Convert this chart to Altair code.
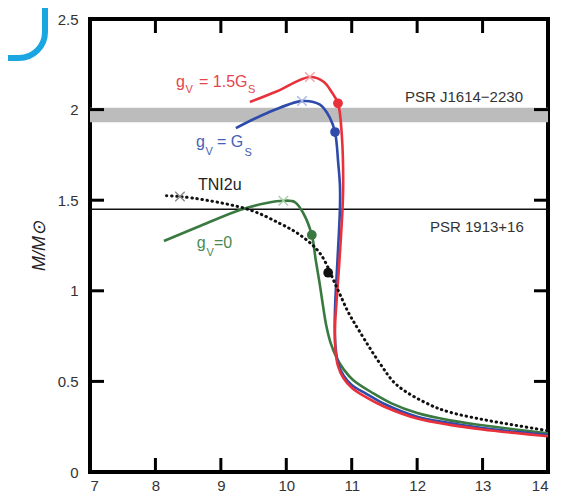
import altair as alt
import pandas as pd

# ---- data ----
red_R = [9.445, 9.85, 10.36, 10.57, 10.69, 10.79, 10.85, 10.87, 10.86, 10.81, 10.77, 10.745, 10.75, 10.79, 10.87, 11.0, 11.23, 11.5, 12.0, 12.5, 13.0, 13.5, 14.0]
red_M = [2.042, 2.10, 2.18, 2.154, 2.099, 2.035, 1.85, 1.6, 1.457, 1.153, 0.95, 0.80, 0.68, 0.585, 0.52, 0.465, 0.41, 0.36, 0.295, 0.26, 0.235, 0.215, 0.197]

blue_R = [9.23, 9.70, 10.24, 10.515, 10.67, 10.745, 10.795, 10.82, 10.82, 10.78, 10.75, 10.74, 10.755, 10.80, 10.88, 11.0, 11.23, 11.5, 12.0, 12.5, 13.0, 13.5, 14.0]
blue_M = [1.898, 1.98, 2.047, 2.027, 1.952, 1.876, 1.70, 1.58, 1.455, 1.152, 0.95, 0.80, 0.68, 0.59, 0.53, 0.48, 0.43, 0.375, 0.305, 0.27, 0.243, 0.222, 0.205]

green_R = [8.13, 8.7, 9.29, 9.7, 9.955, 10.13, 10.26, 10.39, 10.45, 10.51, 10.56, 10.61, 10.68, 10.77, 10.88, 11.02, 11.33, 11.6, 12.0, 12.5, 13.0, 13.5, 14.0]
green_M = [1.275, 1.36, 1.446, 1.485, 1.497, 1.49, 1.428, 1.308, 1.17, 1.04, 0.92, 0.81, 0.71, 0.63, 0.565, 0.508, 0.434, 0.38, 0.325, 0.285, 0.258, 0.235, 0.214]

tni_R = [8.17, 8.375, 8.78, 9.445, 9.90, 10.21, 10.515, 10.77, 10.95, 11.13, 11.43, 11.69, 12.2, 12.5, 13.0, 13.5, 14.0]
tni_M = [1.525, 1.52, 1.50, 1.446, 1.372, 1.308, 1.207, 1.02, 0.88, 0.77, 0.60, 0.48, 0.37, 0.33, 0.29, 0.258, 0.228]

# maximum-mass crosses and marked dots
cross_R = [10.36, 10.24, 9.955, 8.375]
cross_M = [2.18, 2.047, 1.497, 1.52]
cross_col = ["#f4a3a6", "#a9b7e3", "#a7cfa9", "#8a8a8a"]

dot_R = [10.79, 10.745, 10.39, 10.64]
dot_M = [2.035, 1.876, 1.308, 1.10]

RED, BLUE, GREEN, BLACK = "#e8313b", "#2e4aab", "#3a7a40", "#111111"
dot_col = [RED, BLUE, GREEN, BLACK]

# observational constraints
band_lo, band_hi = 1.93, 2.01
psr1913 = 1.45

# text annotations (pieces for sub-scripts)
lab_text = ["g", "V", "= 1.5G", "S",
            "g", "V", "= G", "S",
            "TNI2u",
            "g", "V", "=0",
            "PSR J1614\u22122230", "PSR 1913+16"]
lab_R = [8.314, 8.46, 8.666, 9.415,
         8.62, 8.765, 8.941, 9.36,
         8.65,
         8.63, 8.78, 8.895,
         11.814, 12.196]
lab_M = [2.126, 2.092, 2.126, 2.092,
         1.795, 1.749, 1.795, 1.744,
         1.556,
         1.234, 1.192, 1.234,
         2.044, 1.326]
lab_size = [16, 11, 16, 11, 16, 11, 16, 11, 16, 16, 11, 16, 15, 15]
lab_col = ["#e5454c"] * 4 + ["#4561b5"] * 4 + ["#222222"] + ["#4a8a50"] * 3 + ["#333333", "#333333"]

x_ticks = [7, 8, 9, 10, 11, 12, 13, 14]
y_ticks = [0, 0.5, 1, 1.5, 2, 2.5]
x_inner = [8, 9, 10, 11, 12, 13]
y_inner = [0.5, 1, 1.5, 2]

W, H = 458, 453
TL = 14

xs = alt.Scale(domain=[7, 14], nice=False, zero=False)
ys = alt.Scale(domain=[0, 2.5], nice=False, zero=False)
FONT = "Liberation Sans"

x_axis = alt.Axis(values=x_ticks, title=None, grid=False, ticks=False, domain=False,
                  labelPadding=6, labelFontSize=15, labelColor="#333333", labelFont=FONT)
y_axis = alt.Axis(values=y_ticks, title="M/M\u2299", format="~g", grid=False, ticks=False, domain=False,
                  labelPadding=12, labelFontSize=15, labelColor="#333333", labelFont=FONT,
                  titleFont=FONT, titleFontStyle="italic", titleFontWeight="normal",
                  titleFontSize=18, titleColor="#222222", titlePadding=9)

X = alt.X("R:Q", scale=xs, axis=x_axis)
Y = alt.Y("M:Q", scale=ys, axis=y_axis)


def cdf(r, m):
    return pd.DataFrame({"R": r, "M": m, "o": list(range(len(r)))})


band = alt.Chart(pd.DataFrame({"R": [7], "R2": [14], "M": [band_lo], "M2": [band_hi]})).mark_rect(
    color="#bcbcbc").encode(x=X, x2="R2:Q", y=Y, y2="M2:Q")

rule = alt.Chart(pd.DataFrame({"R": [7], "R2": [14], "M": [psr1913]})).mark_rule(
    color="#111111", strokeWidth=1.4).encode(x=X, x2="R2:Q", y=Y)


def line(r, m, col):
    return alt.Chart(cdf(r, m)).mark_line(color=col, strokeWidth=2.6, interpolate="catmull-rom").encode(
        x=X, y=Y, order="o:Q")


tni = alt.Chart(cdf(tni_R, tni_M)).mark_line(
    color=BLACK, strokeWidth=3, strokeDash=[0.5, 4.6], strokeCap="round", interpolate="catmull-rom").encode(
    x=X, y=Y, order="o:Q")

crosses = alt.Chart(pd.DataFrame({"R": cross_R, "M": cross_M, "c": cross_col})).mark_point(
    shape="M-1,-1L1,1M-1,1L1,-1", filled=False, strokeWidth=1.4, size=90, opacity=1).encode(
    x=X, y=Y, stroke=alt.Color("c:N", scale=None))

dots = alt.Chart(pd.DataFrame({"R": dot_R, "M": dot_M, "c": dot_col})).mark_circle(
    size=95, opacity=1).encode(x=X, y=Y, color=alt.Color("c:N", scale=None))

labels = alt.Chart(pd.DataFrame({"R": lab_R, "M": lab_M, "t": lab_text, "s": lab_size, "c": lab_col})).mark_text(
    align="left", baseline="alphabetic", font=FONT).encode(
    x=X, y=Y, text="t:N", size=alt.Size("s:Q", scale=None), color=alt.Color("c:N", scale=None))

tick_style = dict(color="black", strokeWidth=3)
top_t = alt.Chart(pd.DataFrame({"R": x_inner})).mark_rule(**tick_style).encode(
    x=X, y=alt.value(0), y2=alt.value(TL))
bot_t = alt.Chart(pd.DataFrame({"R": x_inner})).mark_rule(**tick_style).encode(
    x=X, y=alt.value(H - TL), y2=alt.value(H))
left_t = alt.Chart(pd.DataFrame({"M": y_inner})).mark_rule(**tick_style).encode(
    y=Y, x=alt.value(0), x2=alt.value(TL))
right_t = alt.Chart(pd.DataFrame({"M": y_inner})).mark_rule(**tick_style).encode(
    y=Y, x=alt.value(W - TL), x2=alt.value(W))

deco = alt.Chart(pd.DataFrame({"k": [0]})).mark_rect(
    fill="transparent", stroke="#1aa6e0", strokeWidth=6, cornerRadius=26).encode(
    x=alt.value(-400), x2=alt.value(-45), y=alt.value(-400), y2=alt.value(39))

chart = alt.layer(
    band, rule,
    line(green_R, green_M, GREEN), line(blue_R, blue_M, BLUE), line(red_R, red_M, RED), tni,
    crosses, dots, labels,
    top_t, bot_t, left_t, right_t, deco,
).properties(
    width=W, height=H,
    autosize=alt.AutoSizeParams(type="none"),
    padding={"left": 82, "top": 11, "right": 6, "bottom": 22},
    background="white",
).configure_view(stroke="black", strokeWidth=4)

chart.save("out.html", embed_options={"renderer": "svg", "actions": False})
